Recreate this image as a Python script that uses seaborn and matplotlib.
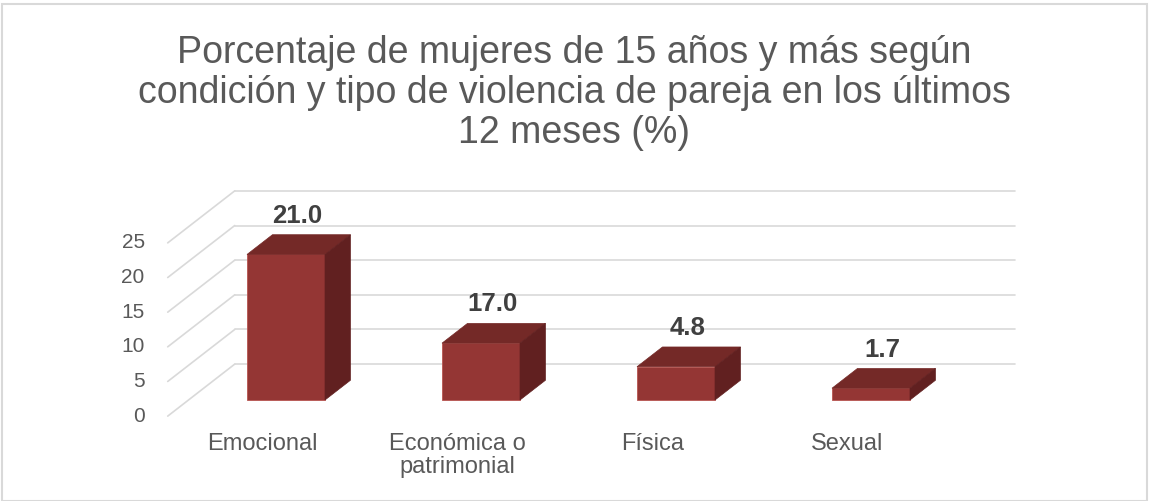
import matplotlib
matplotlib.use('Agg')
import matplotlib.pyplot as plt
import seaborn as sns
from matplotlib.patches import Polygon, Rectangle

# data
categories = ['Emocional', 'Económica o\npatrimonial', 'Física', 'Sexual']
bar_heights = [21.0, 8.2, 4.8, 1.7]      # drawn height of each bar
bar_labels = ['21.0', '17.0', '4.8', '1.7']  # printed value labels
y_ticks = [0, 5, 10, 15, 20, 25]

# layout (pixels of the 1149x501 canvas)
W, H = 1149, 501
X0, XS = 286, 195      # px of first bar front centre, px per category
Y0, YS = 400, 6.93     # px of bar base, px per value unit
WALL_DX, WALL_DY = 67, 52  # depth of the floor in px
BAR_FRONT = 0.31       # fraction of depth where bar front sits
BAR_BACK = 0.69

front = '#943634'
top = '#742927'
side = '#612020'
grid = '#d9d9d9'
text_col = '#595959'


def px(dx, dy):
    # pixel offset -> data offset
    return dx / XS, dy / YS


def main():
    sns.set_theme(style='white')
    plt.rcParams['font.family'] = ['Liberation Sans', 'DejaVu Sans']

    fig = plt.figure(figsize=(W / 100, H / 100), dpi=100)
    ax = fig.add_axes([0, 0, 1, 1])
    ax.set_axis_off()

    # back wall and left floor guides
    fdx, fdy = px(-BAR_FRONT * WALL_DX, -BAR_FRONT * WALL_DY)
    bdx, bdy = px((1 - BAR_FRONT) * WALL_DX, (1 - BAR_FRONT) * WALL_DY)
    n = len(categories)
    for v in y_ticks:
        ax.plot([-0.5 + bdx, n - 0.5 + bdx], [v + bdy, v + bdy],
                color=grid, lw=1.2, zorder=1)
        ax.plot([-0.5 + fdx, -0.5 + bdx], [v + fdy, v + bdy],
                color=grid, lw=1.2, zorder=1)
        ax.text(-0.5 + fdx - 23 / XS, v + fdy, str(v), ha='right',
                va='center', fontsize=15, color=text_col)

    # front faces through seaborn
    sns.barplot(x=list(range(n)), y=bar_heights, ax=ax, color=front,
                width=0.4, saturation=1, native_scale=True,
                edgecolor='#b85450', linewidth=0.6, zorder=3)

    ddx, ddy = px((BAR_BACK - BAR_FRONT) * WALL_DX,
                  (BAR_BACK - BAR_FRONT) * WALL_DY)
    for p, lab in zip(ax.patches, bar_labels):
        x, w, h = p.get_x(), p.get_width(), p.get_height()
        ax.add_patch(Polygon([(x, h), (x + w, h), (x + w + ddx, h + ddy),
                              (x + ddx, h + ddy)], closed=True,
                             facecolor=top, edgecolor=top, lw=0.5, zorder=3))
        ax.add_patch(Polygon([(x + w, 0), (x + w + ddx, ddy),
                              (x + w + ddx, h + ddy), (x + w, h)],
                             closed=True, facecolor=side, edgecolor=side,
                             lw=0.5, zorder=3))
        ax.annotate(lab, (x + w / 2 + ddx / 2, h + ddy), xytext=(-1, 5),
                    textcoords='offset points', ha='center', va='bottom',
                    fontsize=18.5, fontweight='bold', color='#404040')

    # category labels at the front floor edge
    for i, c in enumerate(categories):
        ax.text(i + fdx - 3 / XS, fdy - 17 / YS, c, ha='center', va='top',
                fontsize=17, color=text_col, linespacing=1.05)

    ax.set_xlim(-X0 / XS, (W - X0) / XS)
    ax.set_ylim((Y0 - H) / YS, Y0 / YS)

    fig.text(0.5, 1 - 93 / H,
             'Porcentaje de mujeres de 15 años y más según\n'
             'condición y tipo de violencia de pareja en los últimos\n'
             '12 meses (%)', ha='center', va='center', fontsize=27,
             color=text_col, linespacing=1.15)

    fig.patches.append(Rectangle((1.5 / W, 0), 1 - 3.5 / W, 1 - 4 / H,
                                 transform=fig.transFigure, fill=False,
                                 edgecolor=grid, lw=1.5))
    fig.savefig('out.png', dpi=100)


if __name__ == "__main__":
    main()
